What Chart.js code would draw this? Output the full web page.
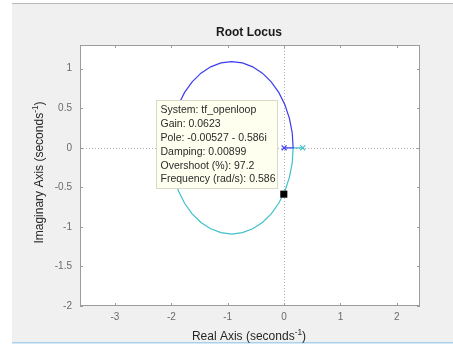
<!DOCTYPE html>
<html>
<head>
<meta charset="utf-8">
<title>Root Locus</title>
<script src="https://cdn.jsdelivr.net/npm/chart.js@4/dist/chart.umd.min.js"></script>
<style>
    html, body { margin: 0; padding: 0; background: #fff; }
    #grafico { display: block; }
</style>
</head>
<body>
<canvas id="grafico" width="453" height="346"></canvas>
<script>
// valores (eje real / eje imaginario)
const ramaSupRe = [0, 0.16, 0.144, 0.094, 0.014, -0.095, -0.229, -0.385, -0.557, -0.740, -0.93, -1.120, -1.303, -1.475, -1.631, -1.765, -1.874, -1.954, -2.004, -2.02];
const ramaSupIm = [0, 0, 0.190, 0.373, 0.545, 0.701, 0.835, 0.944, 1.024, 1.073, 1.09, 1.073, 1.024, 0.944, 0.835, 0.701, 0.545, 0.373, 0.190, 0];
const ramaInfRe = [0.33, 0.16, 0.144, 0.094, 0.014, -0.095, -0.229, -0.385, -0.557, -0.740, -0.93, -1.120, -1.303, -1.475, -1.631, -1.765, -1.874, -1.954, -2.004, -2.02];
const ramaInfIm = [0, 0, -0.190, -0.373, -0.545, -0.701, -0.835, -0.944, -1.024, -1.073, -1.09, -1.073, -1.024, -0.944, -0.835, -0.701, -0.545, -0.373, -0.190, 0];
const polosRe = [0, 0.33];
const polosIm = [0, 0];
const puntoSel = { re: -0.00527, im: -0.586 };
const xTicks = [-3, -2, -1, 0, 1, 2];
const yTicks = [-2, -1.5, -1, -0.5, 0, 0.5, 1];
const xLimites = [-3.62, 2.41];
const yLimites = [-2, 1.3];
const titulo = 'Root Locus';
const lineasInfo = [
    'System: tf_openloop',
    'Gain: 0.0623',
    'Pole: -0.00527 - 0.586i',
    'Damping: 0.00899',
    'Overshoot (%): 97.2',
    'Frequency (rad/s): 0.586'
];

const FUENTE = '"Liberation Sans", Arial, sans-serif';
const AZUL = '#3c3cf0';
const CIAN = '#40c0c8';

function puntos(re, im) {
    return re.map((r, i) => ({ x: r, y: im[i] }));
}

// fondo de la ventana y area blanca del eje
const fondo = {
    id: 'fondo',
    beforeDraw(chart) {
        const ctx = chart.ctx;
        const a = chart.chartArea;
        ctx.save();
        ctx.fillStyle = '#ffffff';
        ctx.fillRect(0, 0, chart.width, chart.height);
        ctx.fillStyle = '#f0f0f0';
        ctx.fillRect(12, 4, chart.width - 12, 338);
        ctx.fillStyle = '#b8b8b8';
        ctx.fillRect(12, 3, chart.width - 12, 1);
        ctx.fillStyle = '#a9d1ee';
        ctx.fillRect(12, 342, chart.width - 12, 1.5);
        ctx.fillStyle = '#ffffff';
        ctx.fillRect(a.left, a.top, a.right - a.left, a.bottom - a.top);
        ctx.restore();
    }
};

// lineas punteadas en cero, caja del eje y marcas hacia adentro
const ejes = {
    id: 'ejes',
    beforeDatasetsDraw(chart) {
        const ctx = chart.ctx;
        const a = chart.chartArea;
        const sx = chart.scales.x, sy = chart.scales.y;
        ctx.save();
        ctx.strokeStyle = '#b0b0b0';
        ctx.lineWidth = 1;
        ctx.setLineDash([1, 2]);
        const x0 = Math.round(sx.getPixelForValue(0)) + 0.5;
        const y0 = Math.round(sy.getPixelForValue(0)) + 0.5;
        ctx.beginPath();
        ctx.moveTo(x0, a.top); ctx.lineTo(x0, a.bottom);
        ctx.moveTo(a.left, y0); ctx.lineTo(a.right, y0);
        ctx.stroke();
        ctx.setLineDash([]);
        ctx.strokeStyle = '#9c9c9c';
        ctx.strokeRect(a.left + 0.5, a.top + 0.5, a.right - a.left - 1, a.bottom - a.top - 1);
        ctx.beginPath();
        xTicks.forEach(v => {
            const px = Math.round(sx.getPixelForValue(v)) + 0.5;
            ctx.moveTo(px, a.bottom); ctx.lineTo(px, a.bottom - 3);
            ctx.moveTo(px, a.top); ctx.lineTo(px, a.top + 3);
        });
        yTicks.forEach(v => {
            const py = Math.round(sy.getPixelForValue(v)) + 0.5;
            ctx.moveTo(a.left, py); ctx.lineTo(a.left + 3, py);
            ctx.moveTo(a.right, py); ctx.lineTo(a.right - 3, py);
        });
        ctx.stroke();
        ctx.restore();
    }
};

function textoConExponente(ctx, base, exp, fin, cx, cy, tam) {
    ctx.font = tam + 'px ' + FUENTE;
    const w1 = ctx.measureText(base).width;
    const w3 = ctx.measureText(fin).width;
    ctx.font = (tam * 0.7) + 'px ' + FUENTE;
    const w2 = ctx.measureText(exp).width;
    let x = cx - (w1 + w2 + w3) / 2;
    ctx.textAlign = 'left';
    ctx.textBaseline = 'middle';
    ctx.font = tam + 'px ' + FUENTE;
    ctx.fillText(base, x, cy);
    x += w1;
    ctx.font = (tam * 0.7) + 'px ' + FUENTE;
    ctx.fillText(exp, x, cy - tam * 0.4);
    x += w2;
    ctx.font = tam + 'px ' + FUENTE;
    ctx.fillText(fin, x, cy);
}

// titulo, nombres de ejes y cuadro de informacion del punto
const textos = {
    id: 'textos',
    afterDatasetsDraw(chart) {
        const ctx = chart.ctx;
        const a = chart.chartArea;
        const cx = (a.left + a.right) / 2;
        ctx.save();
        ctx.fillStyle = '#1a1a1a';
        ctx.font = 'bold 12px ' + FUENTE;
        ctx.textAlign = 'center';
        ctx.textBaseline = 'middle';
        ctx.fillText(titulo, cx - 1, 33);

        ctx.fillStyle = '#262626';
        textoConExponente(ctx, 'Real Axis (seconds', '-1', ')', cx - 1, 337, 12);
        ctx.save();
        ctx.translate(40, (a.top + a.bottom) / 2 - 3);
        ctx.rotate(-Math.PI / 2);
        textoConExponente(ctx, 'Imaginary Axis (seconds', '-1', ')', 0, 0, 12);
        ctx.restore();

        // cuadro tipo datatip
        const px = chart.scales.x.getPixelForValue(puntoSel.re);
        const py = chart.scales.y.getPixelForValue(puntoSel.im);
        const izq = Math.round(px - 128) + 0.5;
        const arr = Math.round(py - 94) + 0.5;
        ctx.fillStyle = '#fffff0';
        ctx.strokeStyle = '#d9d9c8';
        ctx.lineWidth = 1;
        ctx.fillRect(izq, arr, 121, 88);
        ctx.strokeRect(izq, arr, 121, 88);
        ctx.fillStyle = '#2a2a2a';
        ctx.font = '10.5px ' + FUENTE;
        ctx.textAlign = 'left';
        ctx.textBaseline = 'middle';
        lineasInfo.forEach((t, i) => {
            ctx.fillText(t, izq + 4, arr + 10 + i * 13.8);
        });
        ctx.restore();
    }
};

new Chart(document.getElementById('grafico'), {
    type: 'scatter',
    data: {
        datasets: [
            {
                label: 'rama 1',
                data: puntos(ramaSupRe, ramaSupIm),
                showLine: true,
                borderColor: AZUL,
                borderWidth: 1.2,
                pointRadius: 0,
                tension: 0,
                order: 2
            },
            {
                label: 'rama 2',
                data: puntos(ramaInfRe, ramaInfIm),
                showLine: true,
                borderColor: CIAN,
                borderWidth: 1.2,
                pointRadius: 0,
                tension: 0,
                order: 2
            },
            {
                label: 'polos',
                data: puntos(polosRe, polosIm),
                showLine: false,
                pointStyle: 'crossRot',
                pointRadius: 3.5,
                borderWidth: 1.2,
                borderColor: [AZUL, CIAN],
                backgroundColor: [AZUL, CIAN],
                order: 1
            },
            {
                label: 'seleccion',
                data: [{ x: puntoSel.re, y: puntoSel.im }],
                showLine: false,
                pointStyle: 'rect',
                pointRadius: 5,
                borderWidth: 0,
                backgroundColor: '#000000',
                borderColor: '#000000',
                order: 0
            }
        ]
    },
    options: {
        responsive: false,
        animation: false,
        devicePixelRatio: 1,
        layout: { padding: { left: 0, top: 45, right: 33, bottom: 0 } },
        plugins: {
            legend: { display: false },
            tooltip: { enabled: false },
            title: { display: false }
        },
        scales: {
            x: {
                type: 'linear',
                position: 'bottom',
                min: xLimites[0],
                max: xLimites[1],
                grid: { display: false, drawTicks: false },
                border: { display: false },
                afterBuildTicks: s => { s.ticks = xTicks.map(v => ({ value: v })); },
                afterFit: s => { s.height = 40; },
                ticks: {
                    padding: 5,
                    color: '#6a6a6a',
                    font: { family: FUENTE, size: 10 },
                    callback: v => String(v)
                }
            },
            y: {
                type: 'linear',
                position: 'left',
                min: yLimites[0],
                max: yLimites[1],
                grid: { display: false, drawTicks: false },
                border: { display: false },
                afterBuildTicks: s => { s.ticks = yTicks.map(v => ({ value: v })); },
                afterFit: s => { s.width = 80; },
                ticks: {
                    padding: 8,
                    color: '#6a6a6a',
                    font: { family: FUENTE, size: 10 },
                    callback: v => String(v)
                }
            }
        }
    },
    plugins: [fondo, ejes, textos]
});
</script>
</body>
</html>
